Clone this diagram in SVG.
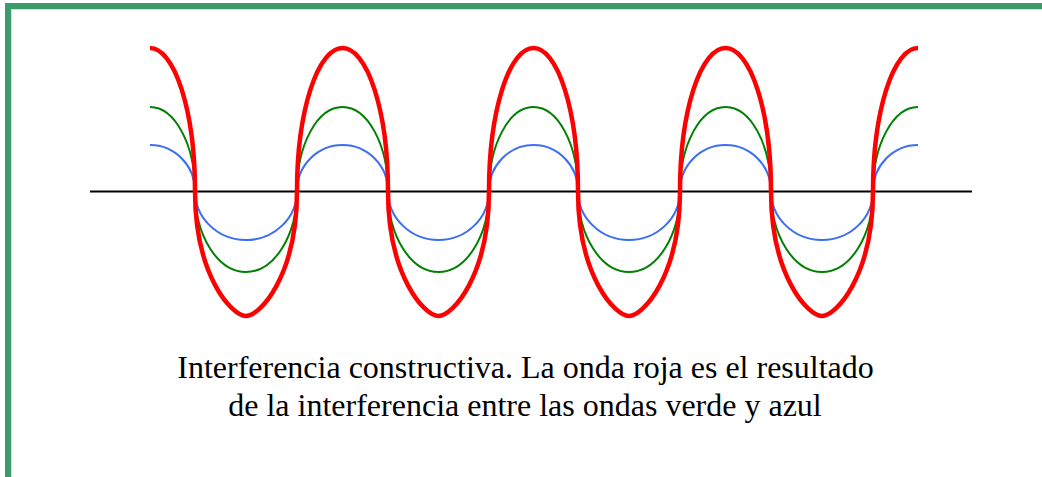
<svg xmlns="http://www.w3.org/2000/svg" width="1042" height="477" viewBox="0 0 1042 477">
<style>
.wave{fill:none;stroke-linejoin:round}
.red{stroke:#ff0000;stroke-width:4.5}
.green{stroke:#008000;stroke-width:2}
.blue{stroke:#3b6ef5;stroke-width:2}
.cap{font-family:"Liberation Serif","Times New Roman",serif;font-size:32px;fill:#000;text-anchor:middle}
</style>
<rect width="1042" height="477" fill="#ffffff"/>
<g id="border">
<rect x="5" y="3" width="1037" height="6" fill="#3a9b6b"/>
<rect x="5" y="3" width="6" height="474" fill="#3a9b6b"/>
<rect x="11" y="9" width="1031" height="1" fill="#c6ecd6"/>
<rect x="11" y="9" width="1" height="468" fill="#c6ecd6"/>
</g>
<g id="connectors">
<line id="axis" x1="90" y1="191.5" x2="972" y2="191.5" stroke="#000" stroke-width="2"/>
</g>
<g id="blue-wave">
<path class="wave blue" d="M150,145 A45,46 0 0 1 195,191 A51,49 0 0 0 297,191 A45.5,46 0 0 1 388,191 A50.5,49 0 0 0 489,191 A44.5,46 0 0 1 578,191 A51,49 0 0 0 680,191 A45.5,46 0 0 1 771,191 A51,49 0 0 0 873,191 A45,46 0 0 1 918,145"/>
</g>
<g id="green-wave">
<path class="wave green" d="M150,107 A45,84 0 0 1 195,191 A51,81 0 0 0 297,191 A45.5,84 0 0 1 388,191 A50.5,81 0 0 0 489,191 A44.5,84 0 0 1 578,191 A51,81 0 0 0 680,191 A45.5,84 0 0 1 771,191 A51,81 0 0 0 873,191 A45,84 0 0 1 918,107"/>
</g>
<g id="red-wave">
<path class="wave red" d="M150,48 A45,143 0 0 1 195,191 C195,276 232,316 246,316 C260,316 297,276 297,191 A45.5,143 0 0 1 388,191 C388,276 424.5,316 438.5,316 C452.5,316 489,276 489,191 A44.5,143 0 0 1 578,191 C578,276 615,316 629,316 C643,316 680,276 680,191 A45.5,143 0 0 1 771,191 C771,276 808,316 822,316 C836,316 873,276 873,191 A45,143 0 0 1 918,48"/>
</g>
<g id="caption">
<text class="cap" x="525.5" y="378">Interferencia constructiva. La onda roja es el resultado</text>
<text class="cap" x="525" y="416">de la interferencia entre las ondas verde y azul</text>
</g>
</svg>
